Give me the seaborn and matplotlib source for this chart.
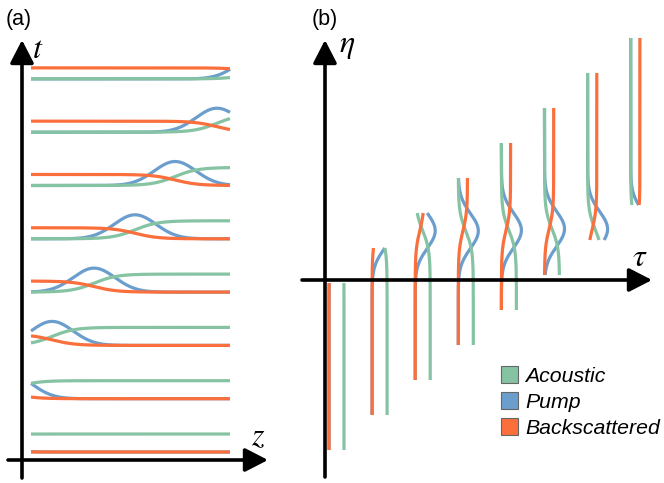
import numpy as np
import matplotlib.pyplot as plt
import seaborn as sns
from matplotlib.patches import Patch

# pump centre (in z units, trace runs 0..10) for each snapshot, bottom to top
pump_centre = [-3.1, -1.0, 1.06, 3.17, 5.23, 7.24, 9.35, 11.42]
snapshots = np.arange(len(pump_centre))

# relative field amplitudes and widths
pump_amp = 1.0
acoustic_amp = 0.75
back_amp = 0.46
pump_width = 1.05
front_width = 1.15
z_len = 10

# panel (b): column top shift per step in eta (z units)
eta0 = -0.18
eta_step = 2.096

legend_names = ['Acoustic', 'Pump', 'Backscattered']

GREEN = '#86c3a3'
BLUE = '#6b9ecd'
ORANGE = '#fa6f3c'
colors = [GREEN, BLUE, ORANGE]
zorders = [3, 2, 4]   # pump sits underneath the other two

sns.set_style('white')
plt.rcParams['mathtext.fontset'] = 'stix'
plt.rcParams['font.family'] = ['Liberation Sans', 'DejaVu Sans']
plt.rcParams['text.color'] = 'black'


def profiles(z, zc):
    front = 0.5 * (1 + np.tanh((z - zc) / front_width))
    acoustic = acoustic_amp * front
    pump = pump_amp * np.exp(-0.5 * ((z - zc) / pump_width) ** 2)
    back = back_amp * (1 - front)
    return acoustic, pump, back


W, H = 664, 483
fig = plt.figure(figsize=(W / 100, H / 100), dpi=100)

# panel (a): 1 z unit = 19.9 px, 1 t unit = 53.3 px
ax_a = fig.add_axes([0, 0, 290 / W, 1])
ax_a.set_xlim(-31 / 19.9, 259 / 19.9)
ax_a.set_ylim(-31 / 53.3, 452 / 53.3)
scale_a = 24 / 53.3

# panel (b): 1 tau unit = 43.1 px, 1 eta unit = 16.7 px
ax_b = fig.add_axes([290 / W, 0, 374 / W, 1])
ax_b.set_xlim(-39 / 43.1, 335 / 43.1)
ax_b.set_ylim(-203 / 16.7, 280 / 16.7)
scale_b = 20 / 43.1

z = np.linspace(0, z_len, 400)
lw = 2.3
for k, zc in zip(snapshots, pump_centre):
    fields = profiles(z, zc)
    eta = eta0 + eta_step * k - z
    for f, col, zo in zip(fields, colors, zorders):
        sns.lineplot(x=z, y=k + scale_a * f, color=col, lw=lw, estimator=None,
                     sort=False, ax=ax_a, zorder=zo, solid_capstyle='butt')
        sns.lineplot(x=k + scale_b * f, y=eta, color=col, lw=lw, estimator=None,
                     sort=False, ax=ax_b, zorder=zo, solid_capstyle='butt')

for ax in (ax_a, ax_b):
    ax.set_axis_off()

arrow = dict(arrowstyle='-|>,head_length=0.7,head_width=0.36', color='k',
             lw=2.6, shrinkA=0, shrinkB=0, mutation_scale=20)

# panel (a) axes
ax_a.annotate('', xy=(-9 / 19.9, 412 / 53.3), xytext=(-9 / 19.9, -26 / 53.3),
              arrowprops=arrow, zorder=10)
ax_a.annotate('', xy=(237 / 19.9, -8 / 53.3), xytext=(-23 / 19.9, -8 / 53.3),
              arrowprops=arrow, zorder=10)
# panel (b) axes
ax_b.annotate('', xy=(-4 / 43.1, 240 / 16.7), xytext=(-4 / 43.1, -197 / 16.7),
              arrowprops=arrow, zorder=10)
ax_b.annotate('', xy=(323 / 43.1, 0), xytext=(-27 / 43.1, 0),
              arrowprops=arrow, zorder=10)


def ftext(x, y, s, **kw):
    fig.text(x / W, 1 - y / H, s, color='black', **kw)


ftext(6, 19, '(a)', fontsize=15.5, ha='left', va='center')
ftext(312, 19, '(b)', fontsize=15.5, ha='left', va='center')
ftext(38, 50, '$t$', fontsize=23, ha='center', va='center')
ftext(258, 437, '$z$', fontsize=23, ha='center', va='center')
ftext(347, 46, r'$\eta$', fontsize=23, ha='center', va='center')
ftext(640, 258, r'$\tau$', fontsize=23, ha='center', va='center')

handles = [Patch(facecolor=c, edgecolor='#666666', lw=0.8) for c in colors]
leg = fig.legend(handles=handles, labels=legend_names, loc='upper left',
                 bbox_to_anchor=(501 / W, 1 - 366 / H), bbox_transform=fig.transFigure,
                 frameon=False, borderpad=0, borderaxespad=0,
                 prop={'family': 'Liberation Sans', 'style': 'italic', 'size': 15.3},
                 handlelength=0.78, handleheight=0.85, handletextpad=0.36,
                 labelspacing=0.3)
for txt in leg.get_texts():
    txt.set_color('black')

fig.savefig('out.png', dpi=100)
